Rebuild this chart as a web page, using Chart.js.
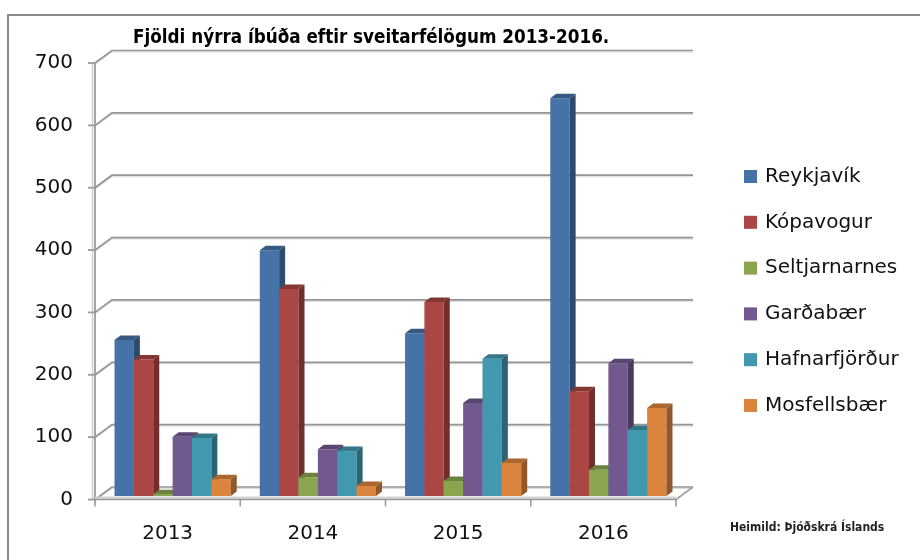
<!DOCTYPE html>
<html><head><meta charset="utf-8">
<script src="https://cdn.jsdelivr.net/npm/chart.js@4.4.1/dist/chart.umd.min.js"></script>
<style>html,body{margin:0;padding:0;background:#fff;}#wrap{width:920px;height:560px;position:relative;}</style>
</head><body><div id="wrap"><canvas id="c" width="920" height="560"></canvas></div>
<script>
const chartTitle = 'Fjöldi nýrra íbúða eftir sveitarfélögum 2013-2016.';
const sourceNote = 'Heimild: Þjóðskrá Íslands';
const years = ['2013', '2014', '2015', '2016'];
const seriesNames = ['Reykjavík', 'Kópavogur', 'Seltjarnarnes', 'Garðabær', 'Hafnarfjörður', 'Mosfellsbær'];
const reykjavik     = [250, 394, 261, 638];
const kopavogur     = [219, 332, 311, 168];
const seltjarnarnes = [3, 30, 24, 42];
const gardabaer     = [95, 75, 149, 213];
const hafnarfjordur = [93, 72, 220, 106];
const mosfellsbaer  = [27, 16, 53, 141];
const seriesValues = [reykjavik, kopavogur, seltjarnarnes, gardabaer, hafnarfjordur, mosfellsbaer];
const seriesColors = ['#4572A7', '#AA4643', '#89A54E', '#71588F', '#4198AF', '#DB843D'];
const yMin = 0, yMax = 700, yStep = 100;

// 3D geometry (style)
const WALL = {dx: 17, dy: -12.5};
const BARFRONT = {dx: 5, dy: -3.5};
const BARDEPTH = {dx: 6, dy: -4.5};

function shade(hex, f) {
  const n = parseInt(hex.slice(1), 16);
  const r = Math.round(((n >> 16) & 255) * f), g = Math.round(((n >> 8) & 255) * f), b = Math.round((n & 255) * f);
  return `rgb(${r},${g},${b})`;
}

const threeD = {
  id: 'threeD',
  beforeDraw(chart) {
    const ctx = chart.ctx;
    const {left, right, top} = chart.chartArea;
    const ys = chart.scales.y;
    ctx.save();
    ctx.fillStyle = '#fff';
    ctx.fillRect(0, 0, chart.width, chart.height);
    // outer border
    ctx.strokeStyle = '#8a8a8a';
    ctx.lineWidth = 2;
    ctx.strokeRect(8, 15, 1000, 1000);
    // gridlines: side wall diagonal + back wall horizontal
    const ticks = ys.ticks.map(t => t.value);
    ticks.forEach(v => {
      const y = ys.getPixelForValue(v);
      ctx.strokeStyle = '#dcdcdc';
      ctx.lineWidth = 1;
      ctx.beginPath();
      ctx.moveTo(left, y + 1.5);
      ctx.lineTo(left + WALL.dx, y + WALL.dy + 1.5);
      ctx.lineTo(right + WALL.dx, y + WALL.dy + 1.5);
      ctx.stroke();
      ctx.strokeStyle = '#949494';
      ctx.lineWidth = 1.7;
      ctx.beginPath();
      ctx.moveTo(left, y);
      ctx.lineTo(left + WALL.dx, y + WALL.dy);
      ctx.lineTo(right + WALL.dx, y + WALL.dy);
      ctx.stroke();
    });
    // floor right edge
    const y0 = ys.getPixelForValue(0);
    ctx.strokeStyle = '#a0a0a0';
    ctx.lineWidth = 1.6;
    ctx.beginPath();
    ctx.moveTo(right, y0);
    ctx.lineTo(right + WALL.dx, y0 + WALL.dy);
    ctx.stroke();
    // left axis line
    ctx.strokeStyle = '#cfcfcf';
    ctx.lineWidth = 1.5;
    ctx.beginPath();
    ctx.moveTo(left - 2.5, top - 1);
    ctx.lineTo(left - 2.5, y0 + 1);
    ctx.stroke();
    ctx.strokeStyle = '#9a9a9a';
    ctx.lineWidth = 1.8;
    ctx.beginPath();
    ctx.moveTo(left, top - 1);
    ctx.lineTo(left, y0 + 2);
    ctx.stroke();
    // y tick marks
    ticks.forEach(v => {
      const y = ys.getPixelForValue(v);
      ctx.beginPath();
      ctx.moveTo(left - 7, y);
      ctx.lineTo(left, y);
      ctx.stroke();
    });
    ctx.restore();
  },
  beforeDatasetsDraw(chart) {
    const ctx = chart.ctx;
    // draw series left-to-right so each bar's front hides its left neighbour's side face
    for (let i = 0; i < chart.data.datasets.length; i++) {
      const meta = chart.getDatasetMeta(i);
      if (!meta.visible) continue;
      const color = seriesColors[i];
      ctx.save();
      ctx.translate(BARFRONT.dx, BARFRONT.dy);
      meta.controller.draw();
      meta.data.forEach(el => {
        const {x, y, base, width} = el.getProps(['x', 'y', 'base', 'width'], true);
        const l = x - width / 2, r = x + width / 2;
        ctx.fillStyle = shade(color, 0.66);
        ctx.beginPath();
        ctx.moveTo(r, y); ctx.lineTo(r + BARDEPTH.dx, y + BARDEPTH.dy);
        ctx.lineTo(r + BARDEPTH.dx, base + BARDEPTH.dy); ctx.lineTo(r, base);
        ctx.closePath(); ctx.fill();
        ctx.fillStyle = shade(color, 0.78);
        ctx.beginPath();
        ctx.moveTo(l, y); ctx.lineTo(l + BARDEPTH.dx, y + BARDEPTH.dy);
        ctx.lineTo(r + BARDEPTH.dx, y + BARDEPTH.dy); ctx.lineTo(r, y);
        ctx.closePath(); ctx.fill();
      });
      ctx.restore();
    }
    // floor front edge and category ticks, in front of the bars
    const {left, right} = chart.chartArea;
    const ys = chart.scales.y, xs = chart.scales.x;
    const y0 = ys.getPixelForValue(0);
    ctx.save();
    ctx.strokeStyle = '#d4d4d4';
    ctx.lineWidth = 3;
    ctx.beginPath();
    ctx.moveTo(left, y0 - 1.5); ctx.lineTo(right, y0 - 1.5); ctx.stroke();
    ctx.strokeStyle = '#9a9a9a';
    ctx.lineWidth = 1.6;
    ctx.beginPath();
    ctx.moveTo(left, y0); ctx.lineTo(right, y0); ctx.stroke();
    const n = years.length;
    const cw = (xs.right - xs.left) / n;
    for (let i = 0; i <= n; i++) {
      const x = xs.left + i * cw;
      ctx.beginPath();
      ctx.moveTo(x, y0); ctx.lineTo(x, y0 + 7); ctx.stroke();
    }
    ctx.restore();
    return false;
  },
  afterDraw(chart) {
    const ctx = chart.ctx;
    ctx.save();
    // title
    ctx.fillStyle = '#000';
    ctx.font = 'bold 18.7px "DejaVu Sans Condensed", "DejaVu Sans"';
    ctx.textBaseline = 'middle';
    ctx.textAlign = 'left';
    ctx.fillText(chartTitle, 133, 38);
    // legend
    ctx.font = '20px "DejaVu Sans"';
    chart.data.datasets.forEach((ds, i) => {
      const cy = 176.5 + i * 45.8;
      ctx.fillStyle = ds.backgroundColor;
      ctx.fillRect(744, cy - 6.5, 13, 13);
      ctx.fillStyle = '#111';
      ctx.fillText(ds.label, 765, cy);
    });
    // source
    ctx.font = 'bold 12px "DejaVu Sans Condensed", "DejaVu Sans"';
    ctx.fillStyle = '#222';
    ctx.fillText(sourceNote, 730, 528);
    ctx.restore();
  }
};

new Chart(document.getElementById('c'), {
  type: 'bar',
  data: {
    labels: years,
    datasets: seriesNames.map((name, i) => ({
      label: name,
      data: seriesValues[i],
      backgroundColor: seriesColors[i],
      borderWidth: 0,
      barPercentage: 1.0,
      categoryPercentage: 0.8
    }))
  },
  options: {
    responsive: false,
    animation: false,
    devicePixelRatio: 1,
    layout: {padding: {left: 0, top: 63, right: 244, bottom: 0}},
    plugins: {legend: {display: false}, title: {display: false}, tooltip: {enabled: false}},
    scales: {
      x: {
        grid: {display: false, drawTicks: false, tickLength: 0},
        border: {display: false},
        ticks: {color: '#111', font: {family: '"DejaVu Sans"', size: 20}, padding: 22, maxRotation: 0},
        afterFit: s => { s.height = 60.5; }
      },
      y: {
        min: yMin, max: yMax,
        grid: {display: false, drawTicks: false, tickLength: 0},
        border: {display: false},
        ticks: {stepSize: yStep, color: '#111', font: {family: '"DejaVu Sans"', size: 20}, padding: 22},
        afterFit: s => { s.width = 95; }
      }
    }
  },
  plugins: [threeD]
});
</script></body></html>
